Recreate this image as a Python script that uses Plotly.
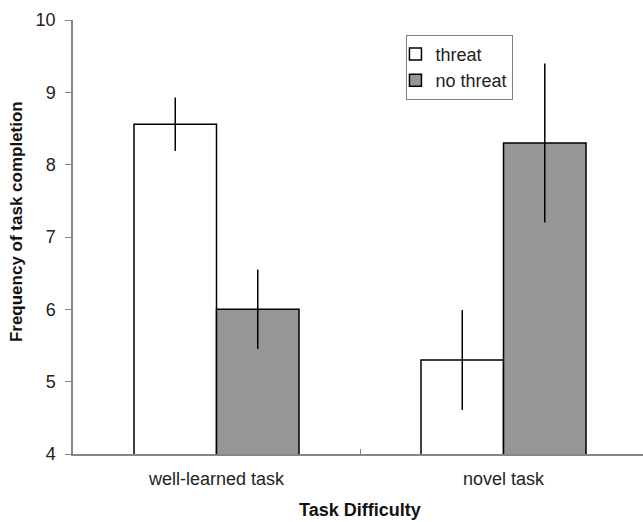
import plotly.graph_objects as go

categories = ["well-learned task", "novel task"]
threat_vals = [8.56, 5.30]
threat_err = [0.37, 0.69]
nothreat_vals = [6.00, 8.30]
nothreat_err = [0.55, 1.10]
y_ticks = [4, 5, 6, 7, 8, 9, 10]

FONT = "Liberation Sans, Arial, sans-serif"
AXIS_GRAY = "#868686"

fig = go.Figure()
fig.add_trace(go.Bar(
    name="threat", x=categories, y=threat_vals,
    marker=dict(color="white", line=dict(color="black", width=1.5)),
    error_y=dict(type="data", array=threat_err, visible=True, width=0,
                 thickness=1.5, color="black"),
))
fig.add_trace(go.Bar(
    name="no threat", x=categories, y=nothreat_vals,
    marker=dict(color="#969696", line=dict(color="black", width=1.5)),
    error_y=dict(type="data", array=nothreat_err, visible=True, width=0,
                 thickness=1.5, color="black"),
))

fig.update_layout(
    width=643, height=522,
    margin=dict(l=73, r=0, t=20, b=68),
    paper_bgcolor="white", plot_bgcolor="white",
    barmode="group", bargap=0.425, bargroupgap=0,
    font=dict(family=FONT, color="#222222", size=18),
    showlegend=True,
    legend=dict(x=0.585, y=0.966, xanchor="left", yanchor="top",
                bordercolor="#808080", borderwidth=1, bgcolor="white",
                font=dict(size=18, color="#222222"), tracegroupgap=0,
                indentation=-12, itemclick=False, itemdoubleclick=False),
    xaxis=dict(type="category", range=[-0.5, 1.486], showline=True,
               linecolor=AXIS_GRAY, linewidth=1.5, ticks="inside",
               tickson="boundaries", ticklen=5, tickcolor=AXIS_GRAY,
               showgrid=False, tickfont=dict(size=18), ticklabelstandoff=8),
    yaxis=dict(range=[4, 10], tickvals=y_ticks, showline=True,
               linecolor=AXIS_GRAY, linewidth=1.5, ticks="outside",
               ticklen=6, tickcolor=AXIS_GRAY, showgrid=False,
               zeroline=False, tickfont=dict(size=18), ticklabelstandoff=6),
    annotations=[
        dict(text="<b>Task Difficulty</b>", x=0.5, xref="x", y=-0.129,
             yref="paper", xanchor="center", yanchor="middle",
             showarrow=False, font=dict(size=18, color="#111111")),
        dict(text="<b>Frequency of task completion</b>", x=-0.098,
             xref="paper", y=0.5346, yref="paper", xanchor="center",
             yanchor="middle", textangle=-90, showarrow=False,
             font=dict(size=17, color="#111111")),
    ],
)

fig.write_html("out.html", config={"displayModeBar": False},
               post_script="document.body.style.margin='0';document.body.style.padding='0';")
